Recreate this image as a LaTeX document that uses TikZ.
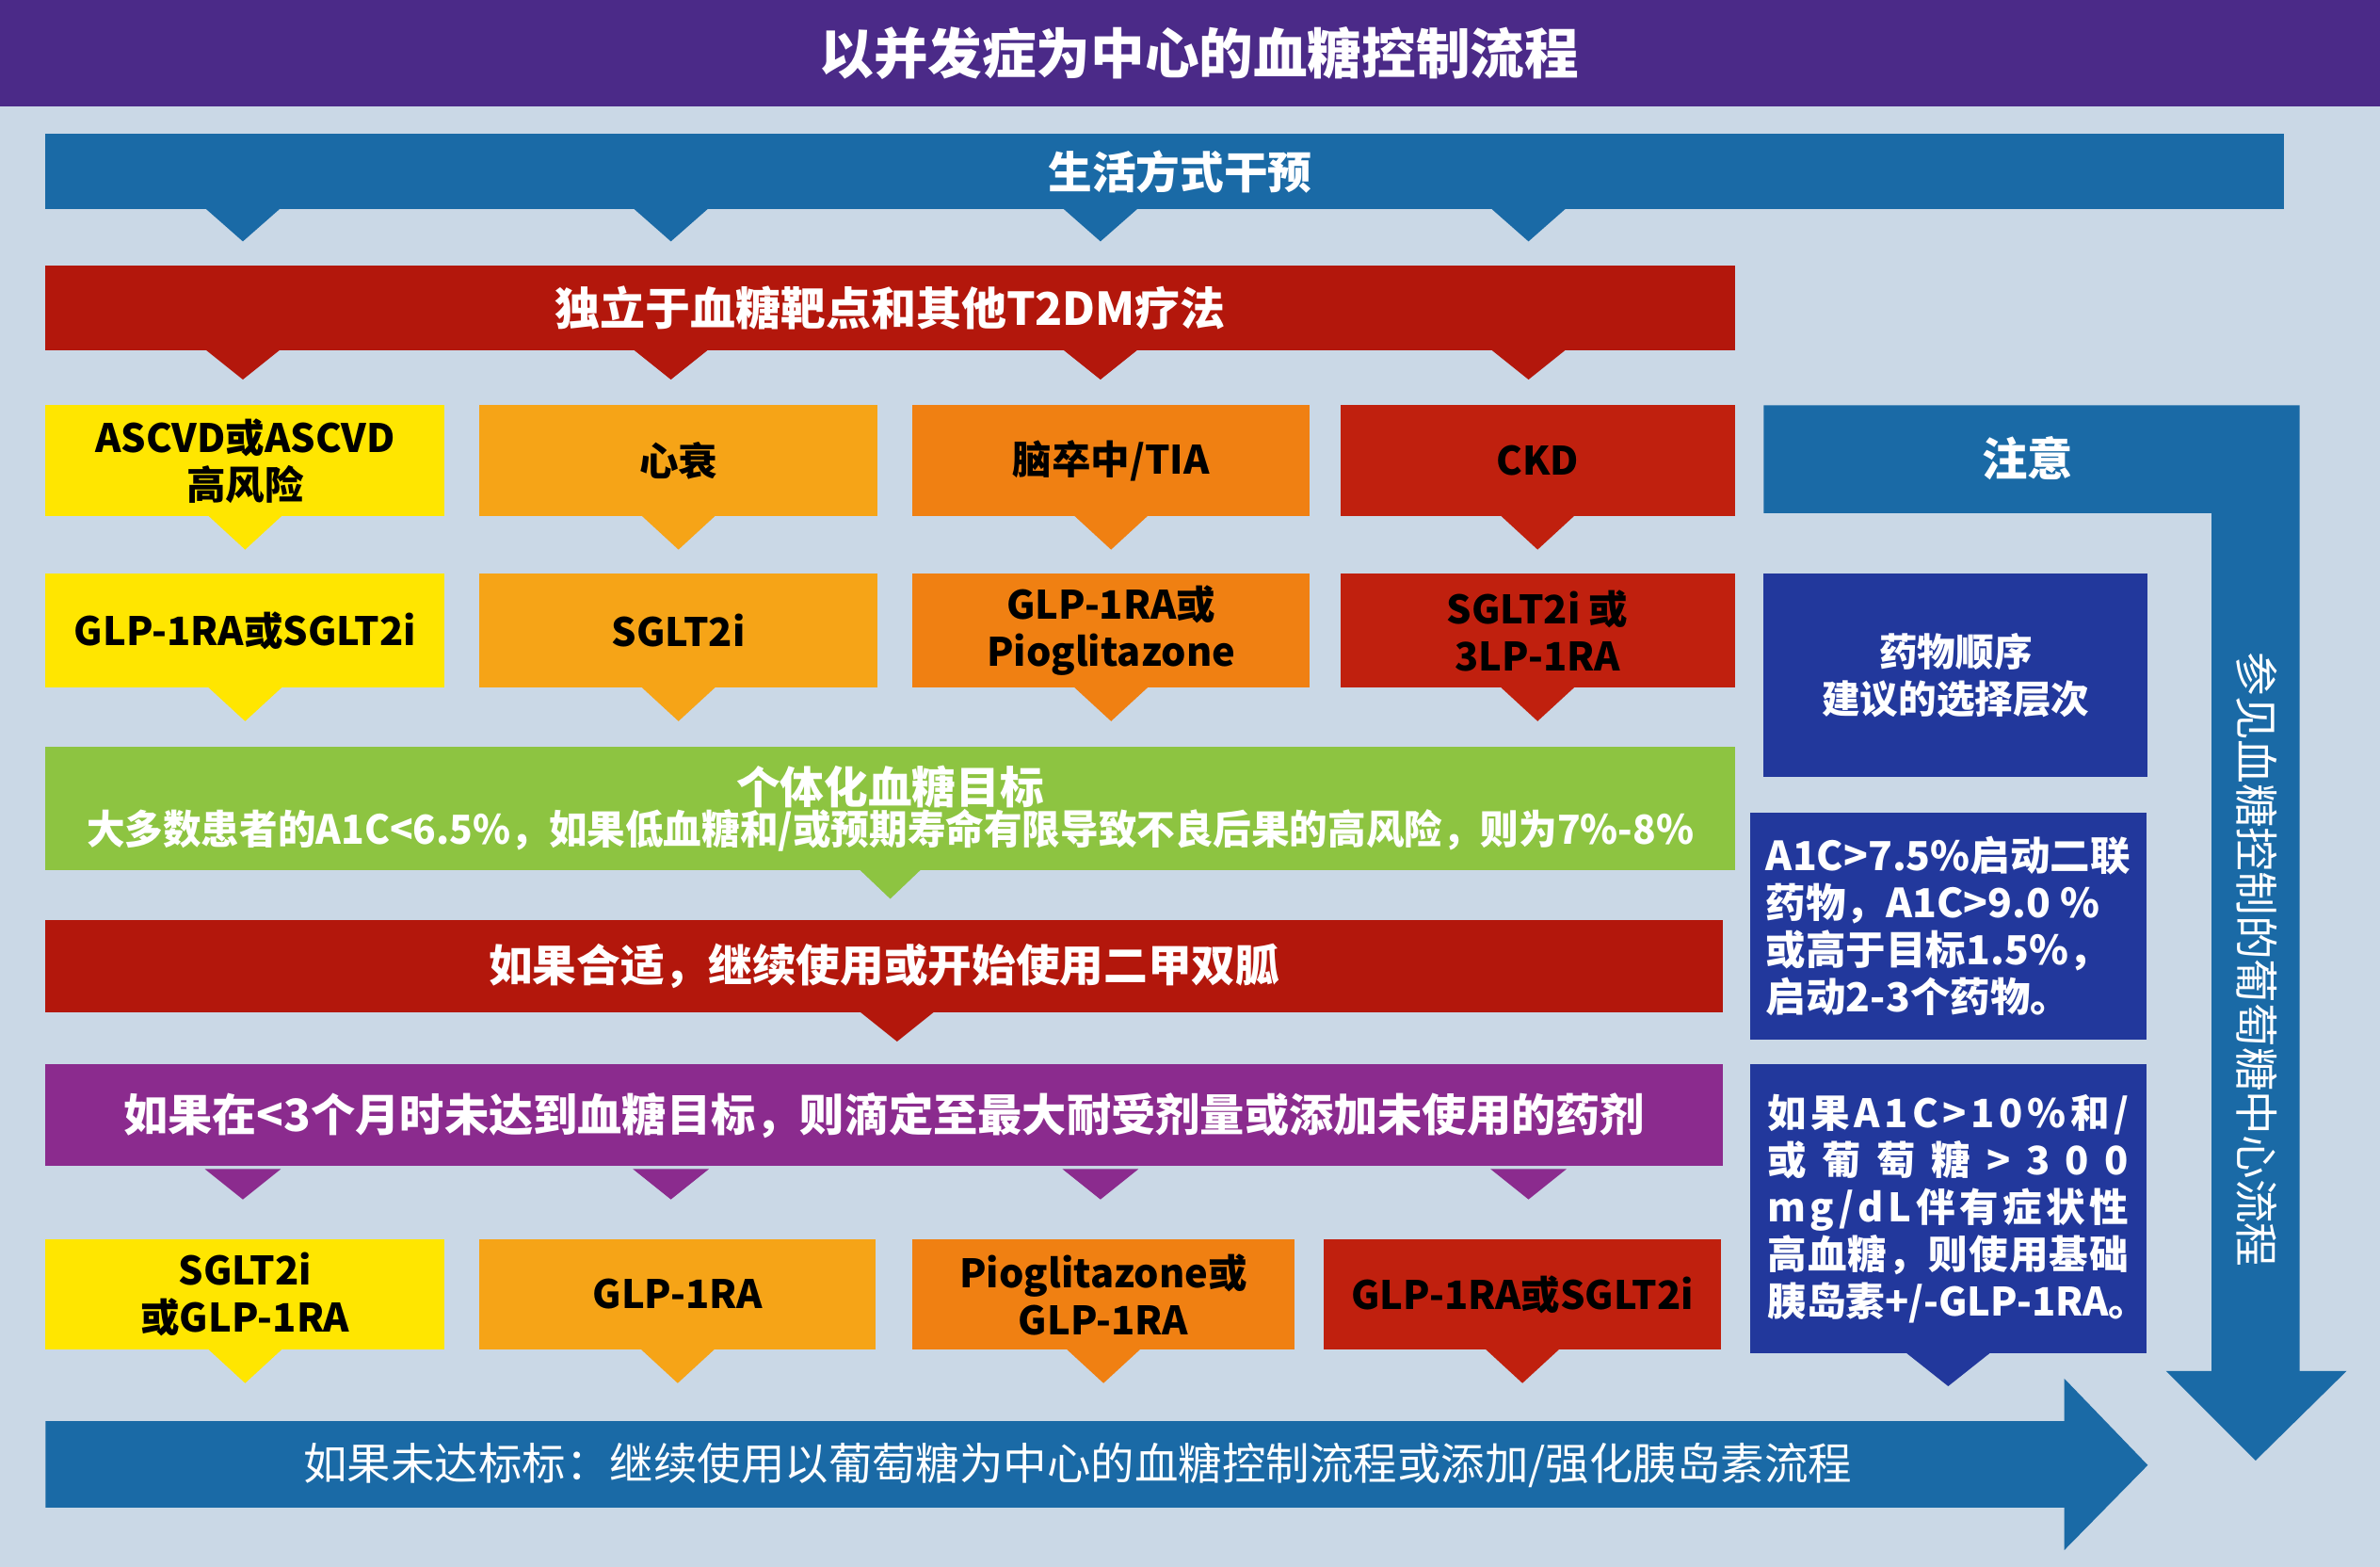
\documentclass[tikz,border=0pt]{standalone}
\usepackage{fontspec}
\setmainfont{Noto Sans CJK SC}
\usetikzlibrary{calc}
\definecolor{bg}{HTML}{CAD8E6}
\definecolor{tpurple}{HTML}{4B2A88}
\definecolor{lblue}{HTML}{1A6AA6}
\definecolor{dred}{HTML}{B3170C}
\definecolor{cyel}{HTML}{FFE600}
\definecolor{corg}{HTML}{F6A417}
\definecolor{cdorg}{HTML}{F08012}
\definecolor{cred}{HTML}{C0200E}
\definecolor{cgreen}{HTML}{8DC441}
\definecolor{cpurp}{HTML}{8B2B8E}
\definecolor{navy}{HTML}{22389C}
\newcommand\fsz[2]{\fontsize{#1pt}{#2pt}\selectfont}
\newcommand\jl[1]{\hbox to 71.4mm{#1}}
\begin{document}
\begin{tikzpicture}[x=0.3mm,y=-0.3mm,
  rbox/.style 2 args={minimum width=#1*0.3mm, minimum height=#2*0.3mm, inner sep=0pt, outer sep=0pt, anchor=north west},
  wt/.style={text=white, align=center, font=\bfseries\fsz{24.7}{29}},
  bt/.style={text=black, align=center, font=\bfseries\fsz{22}{26.5}},
  nt/.style={text=white, align=left, font=\bfseries\fsz{22.5}{26.5}},
]
\useasboundingbox (0,0) rectangle (1568,1032);
\fill[bg] (0,0) rectangle (1568,1032);

% title
\node[rbox={1568}{70}, fill=tpurple, text=white, font=\bfseries\fsz{30.5}{36}] (title) at (0,0) {\hspace*{3.6mm}以并发症为中心的血糖控制流程};

% lifestyle bar
\node[rbox={1475}{50}, fill=lblue, wt] (life) at (30,88) {\hspace*{6mm}生活方式干预};
\foreach \cx in {160,442,725,1007}
  \fill[lblue] (\cx-25,137) -- (\cx+25,137) -- (\cx,159) -- cycle;

% independent bar
\node[rbox={1113}{56}, fill=dred, wt, font=\bfseries\fsz{25.4}{30}] (indep) at (30,175) {独立于血糖靶点和其他T2DM疗法};
\foreach \cx in {160,442,725,1007}
  \fill[dred] (\cx-25,230) -- (\cx+25,230) -- (\cx,250) -- cycle;

% row 1
\node[rbox={263}{73}, fill=cyel, bt] (r1a) at (30,267) {ASCVD或ASCVD\\高风险};
\node[rbox={262}{73}, fill=corg, bt] (r1b) at (316,267) {心衰};
\node[rbox={262}{73}, fill=cdorg, bt] (r1c) at (601,267) {脑卒中/TIA};
\node[rbox={260}{73}, fill=cred, bt] (r1d) at (883,267) {CKD};
% row 2
\node[rbox={263}{75}, fill=cyel, bt] (r2a) at (30,378) {GLP-1RA或SGLT2i};
\node[rbox={262}{75}, fill=corg, bt] (r2b) at (316,378) {SGLT2i};
\node[rbox={262}{75}, fill=cdorg, bt] (r2c) at (601,378) {GLP-1RA或\\Pioglitazone};
\node[rbox={260}{75}, fill=cred, bt] (r2d) at (883,378) {SGLT2i 或\\3LP-1RA};
\foreach \n/\c in {r1a/cyel,r1b/corg,r1c/cdorg,r1d/cred,r2a/cyel,r2b/corg,r2c/cdorg,r2d/cred}
  \fill[\c] ($(\n.south)+(-25,-1)$) -- ($(\n.south)+(25,-1)$) -- ($(\n.south)+(0,22)$) -- cycle;

% green goal
\node[rbox={1113}{81}, fill=cgreen, text=white, align=center] (goal) at (30,492)
  {{\bfseries\fsz{24.7}{32}个体化血糖目标}\\
   {\bfseries\fsz{22.5}{32}\scalebox{0.955}[1]{大多数患者的A1C<6.5\%，如果低血糖和/或预期寿命有限导致不良后果的高风险，则为7\%-8\%}}};
\fill[cgreen] ($(goal.south)+(-21,-1)$) -- ($(goal.south)+(21,-1)$) -- ($(goal.south)+(0,19)$) -- cycle;

% metformin
\node[rbox={1105}{61}, fill=dred, wt] (metf) at (30,606) {如果合适，继续使用或开始使用二甲双胍};
\fill[dred] (591-25,666) -- (591+25,666) -- (591,686) -- cycle;

% purple
\node[rbox={1105}{67}, fill=cpurp, wt, font=\bfseries\fsz{25}{30}] (titr) at (30,701) {如果在<3个月时未达到血糖目标，则滴定至最大耐受剂量或添加未使用的药剂};
\foreach \cx in {160,442,725,1007}
  \fill[cpurp] (\cx-25,770) -- (\cx+25,770) -- (\cx,790) -- cycle;

% row 3
\node[rbox={263}{73}, fill=cyel, bt] (r3a) at (30,816) {SGLT2i\\或GLP-1RA};
\node[rbox={261}{73}, fill=corg, bt] (r3b) at (316,816) {GLP-1RA};
\node[rbox={252}{73}, fill=cdorg, bt] (r3c) at (601,816) {Pioglitazone或\\GLP-1RA};
\node[rbox={262}{73}, fill=cred, bt] (r3d) at (872,816) {GLP-1RA或SGLT2i};
\foreach \n/\c in {r3a/cyel,r3b/corg,r3c/cdorg,r3d/cred}
  \fill[\c] ($(\n.south)+(-25,-1)$) -- ($(\n.south)+(25,-1)$) -- ($(\n.south)+(0,22)$) -- cycle;

% right column: L-shaped arrow
\fill[lblue] (1162,267) -- (1515,267) -- (1515,903) -- (1546,903) -- (1486,962) -- (1427,903) -- (1457,903) -- (1457,338) -- (1162,338) -- cycle;
\node[wt, font=\bfseries\fsz{25.6}{30}] (note) at (1336,302) {注意};
\node[text=white, rotate=-90, font=\fsz{24.7}{29}] (see) at (1487,632) {参见血糖控制的葡萄糖中心流程};

\node[rbox={253}{134}, fill=navy, wt, font=\bfseries\fsz{21.5}{26.5}] (order) at (1162,378) {药物顺序\\建议的选择层次};
\node[rbox={261}{150}, fill=navy, nt] (a1c) at (1153,535) {A1C>7.5\%启动二联\\药物，A1C>9.0 \%\\或高于目标1.5\%，\\启动2-3个药物。};
\node[rbox={261}{190}, fill=navy, nt, font=\bfseries\fsz{22}{26.5}] (a10) at (1153,701)
  {\jl{如\hfil 果\hfil A\hfil 1\hfil C\hfil >\hfil 1\hfil 0\hfil \%\hfil 和\hfil /}\\
   \jl{或\hfil 葡\hfil 萄\hfil 糖\hfil >\hfil 3\hfil 0\hfil 0}\\
   \jl{m\hfil g\hfil /\hfil d\hfil L\hfil 伴\hfil 有\hfil 症\hfil 状\hfil 性}\\
   \jl{高\hfil 血\hfil 糖\hfil ，\hfil 则\hfil 使\hfil 用\hfil 基\hfil 础}\\
   \jl{胰\hfil 岛\hfil 素\hfil +\hfil /\hfil -\hfil GLP-1RA。}};
\fill[navy] ($(a10.south)+(-29,-1)$) -- ($(a10.south)+(29,-1)$) -- ($(a10.south)+(0,22)$) -- cycle;

% bottom arrow
\fill[lblue] (30,936) -- (1360,936) -- (1360,908) -- (1415,965) -- (1360,1021) -- (1360,993) -- (30,993) -- cycle;
\node[text=white, font=\fsz{24.6}{30}] (final) at (710,965) {如果未达标标：继续使用以葡萄糖为中心的血糖控制流程或添加/强化胰岛素流程};
\end{tikzpicture}
\end{document}
